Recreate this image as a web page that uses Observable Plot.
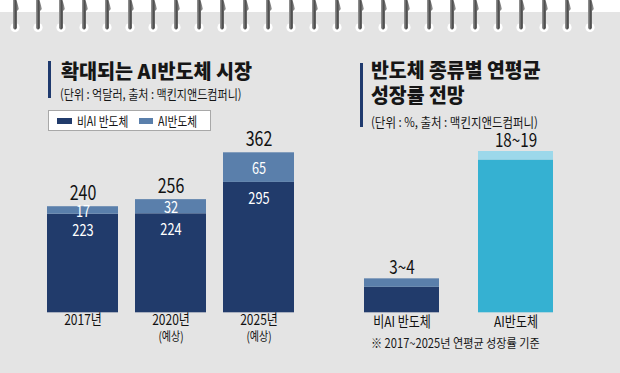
<!DOCTYPE html>
<html>
<head>
<meta charset="utf-8">
<script src="https://cdn.jsdelivr.net/npm/d3@7"></script>
<script src="https://cdn.jsdelivr.net/npm/@observablehq/plot@0.6"></script>
<style>
  body { margin: 0; }
  #root { position: relative; width: 620px; height: 373px; background: #e4e4e4; overflow: hidden;
          font-family: "Noto Sans CJK KR", "Noto Sans", sans-serif; color: #161616; }
  .t { position: absolute; white-space: nowrap; line-height: 1; transform-origin: 0 0; }
  .plot { position: absolute; top: 110px; }
</style>
</head>
<body>
<div id="root">
  <div style="position:absolute;left:0;top:0;width:620px;height:12px;background:#fff"></div>
  <svg id="rings" width="620" height="40" style="position:absolute;left:0;top:0"></svg>

  <div style="position:absolute;left:48px;top:61px;width:3.4px;height:37px;background:#1f3a6e"></div>
  <div class="t" style="left:61px;top:60.5px;font-size:20px;font-weight:900;transform:scaleX(0.98)">확대되는 AI반도체 시장</div>
  <div class="t" style="left:59.5px;top:86.5px;font-size:13px;transform:scaleX(0.85)">(단위 : 억달러, 출처 : 맥킨지앤드컴퍼니)</div>

  <div style="position:absolute;left:48px;top:110px;width:163px;height:21px;background:#fff;border:1px solid #a8a8a8;box-sizing:border-box"></div>
  <div id="legend"></div>

  <div style="position:absolute;left:360px;top:63px;width:3.4px;height:64px;background:#1f3a6e"></div>
  <div class="t" style="left:371px;top:60px;font-size:20px;font-weight:900;transform:scaleX(0.97)">반도체 종류별 연평균</div>
  <div class="t" style="left:371px;top:84.5px;font-size:20px;font-weight:900;transform:scaleX(0.97)">성장률 전망</div>
  <div class="t" style="left:370.5px;top:114.5px;font-size:13px;transform:scaleX(0.88)">(단위 : %, 출처 : 맥킨지앤드컴퍼니)</div>

  <div id="left" class="plot" style="left:0px"></div>
  <div id="right" class="plot" style="left:330px"></div>

  <div class="t" style="left:371px;top:337px;font-size:12.5px;transform:scaleX(0.89)">※ 2017~2025년 연평균 성장률 기준</div>
</div>
<script>
// ---- data: AI semiconductor market (억달러) ----
const years = ["2017년", "2020년", "2025년"];
const yearNotes = ["", "(예상)", "(예상)"];
const nonAIMarket = [223, 224, 295];
const aiMarket = [17, 32, 65];
const marketTotals = [240, 256, 362];
const marketSeries = ["비AI 반도체", "AI반도체"];

// ---- data: CAGR by chip type (%) ----
const chipTypes = ["비AI 반도체", "AI반도체"];
const growthLow = [3, 18];
const growthHigh = [4, 19];
const growthLabels = ["3~4", "18~19"];

// ---- styles ----
const navy = "#213b6b", steel = "#5a7fab";
const baseColor = {"비AI 반도체": navy, "AI반도체": "#35b1d2"};
const topColor = {"비AI 반도체": steel, "AI반도체": "#9cd8ea"};
const FONT = '"Noto Sans CJK KR", "Noto Sans", sans-serif';

function condense(svg, s) {
  svg.querySelectorAll("text").forEach(t => {
    const tr = t.getAttribute("transform");
    if (tr) t.setAttribute("transform", tr + ` scale(${s},1)`);
    else {
      const x = +t.getAttribute("x") || 0, y = +t.getAttribute("y") || 0;
      t.setAttribute("transform", `translate(${x},${y}) scale(${s},1) translate(${-x},${-y})`);
    }
  });
}

// rings decoration
(function () {
  const g = d3.select("#rings");
  const defs = g.append("defs").append("linearGradient").attr("id", "metal");
  defs.append("stop").attr("offset", "0%").attr("stop-color", "#9a9a9a");
  defs.append("stop").attr("offset", "45%").attr("stop-color", "#4a4a4a");
  defs.append("stop").attr("offset", "100%").attr("stop-color", "#b5b5b5");
  for (let i = 0; i < 26; i++) {
    const x = 15 + 23 * i;
    g.append("circle").attr("cx", x).attr("cy", 27.5).attr("r", 4.6).attr("fill", "#fff");
    g.append("path")
      .attr("d", `M${x - 2},0 L${x + 1.5},0 L${x + 4},9 L${x + 2},11 L${x + 2},28 Q${x},31 ${x - 2},28 Z`)
      .attr("fill", "url(#metal)");
  }
})();

// legend
(function () {
  const L = document.getElementById("legend");
  const items = [
    {sw: 57.3, tx: 76.5, color: navy, label: marketSeries[0]},
    {sw: 138.5, tx: 158, color: steel, label: marketSeries[1]}
  ];
  for (const it of items) {
    const s = document.createElement("div");
    s.style.cssText = `position:absolute;left:${it.sw}px;top:117.7px;width:14.5px;height:6.3px;background:${it.color}`;
    L.appendChild(s);
    const t = document.createElement("div");
    t.className = "t";
    t.style.cssText = `left:${it.tx}px;top:113.5px;font-size:13px;transform:scaleX(0.82)`;
    t.textContent = it.label;
    L.appendChild(t);
  }
})();

// left chart
const rows = years.map((y, i) => ({year: y, note: yearNotes[i], nonAI: nonAIMarket[i], ai: aiMarket[i], total: marketTotals[i]}));
const left = Plot.plot({
  width: 320, height: 245,
  marginLeft: 29, marginRight: 8, marginTop: 42.3, marginBottom: 42.7,
  style: {background: "transparent", overflow: "visible", fontFamily: FONT},
  x: {type: "band", domain: years, paddingInner: 0.19, paddingOuter: 0.19, axis: null},
  y: {domain: [0, 362], axis: null},
  marks: [
    Plot.barY(rows, {x: "year", y1: 0, y2: "nonAI", fill: navy}),
    Plot.barY(rows, {x: "year", y1: "nonAI", y2: "total", fill: steel}),
    Plot.text(rows, {x: "year", y: "total", text: d => String(d.total), dy: -13, fontSize: 20, fill: "#111"}),
    Plot.text(rows, {x: "year", y: d => (d.nonAI + d.total) / 2, text: d => String(d.ai), dy: 1.5, fontSize: 16, fill: "#fff"}),
    Plot.text(rows, {x: "year", y: "nonAI", text: d => String(d.nonAI), dy: 16.5, fontSize: 16, fill: "#fff"}),
    Plot.text(rows, {x: "year", frameAnchor: "bottom", text: "year", dy: 12, fontSize: 15, fill: "#111"}),
    Plot.text(rows, {x: "year", frameAnchor: "bottom", text: "note", dy: 28.5, fontSize: 12.5, fill: "#111"})
  ]
});
condense(left, 0.8);
document.getElementById("left").appendChild(left);

// right chart
const rows2 = chipTypes.map((t, i) => ({type: t, low: growthLow[i], high: growthHigh[i], label: growthLabels[i]}));
const right = Plot.plot({
  width: 290, height: 245,
  marginLeft: 10.4, marginRight: 44.3, marginTop: 41, marginBottom: 42.7,
  style: {background: "transparent", overflow: "visible", fontFamily: FONT},
  x: {type: "band", domain: chipTypes, paddingInner: 0.345, paddingOuter: 0.2, axis: null},
  y: {domain: [0, 19], axis: null},
  color: {type: "identity"},
  marks: [
    Plot.barY(rows2, {x: "type", y1: 0, y2: "low", fill: d => baseColor[d.type]}),
    Plot.barY(rows2, {x: "type", y1: "low", y2: "high", fill: d => topColor[d.type]}),
    Plot.text(rows2, {x: "type", y: "high", text: "label", dy: -11, fontSize: 19, fill: "#111"}),
    Plot.text(rows2, {x: "type", frameAnchor: "bottom", text: "type", dy: 14.5, fontSize: 15, fill: "#111"})
  ]
});
condense(right, 0.8);
document.getElementById("right").appendChild(right);
</script>
</body>
</html>
